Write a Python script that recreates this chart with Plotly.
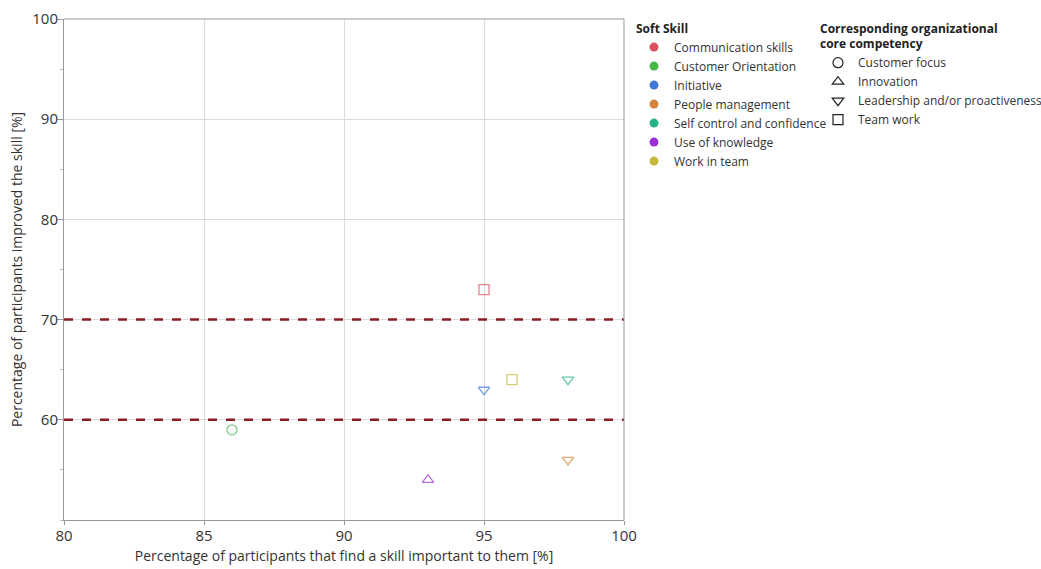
import plotly.graph_objects as go

skills = ["Communication skills", "Customer Orientation", "Initiative", "People management",
          "Self control and confidence", "Use of knowledge", "Work in team"]
importance = [95, 86, 95, 98, 98, 93, 96]
improved = [73, 59, 63, 56, 64, 54, 64]
competency = ["Team work", "Customer focus", "Leadership and/or proactiveness",
              "Leadership and/or proactiveness", "Leadership and/or proactiveness",
              "Innovation", "Team work"]
skill_colors = ["#d9505f", "#45b649", "#4478d8", "#d6843c", "#26b38a", "#9b2fd6", "#c4b93a"]
competencies = ["Customer focus", "Innovation", "Leadership and/or proactiveness", "Team work"]
comp_symbols = {"Customer focus": "circle-open", "Innovation": "triangle-up-open",
                "Leadership and/or proactiveness": "triangle-down-open", "Team work": "square-open"}
thresholds = [60, 70]

FONT = "Open Sans, Noto Sans, sans-serif"
fig = go.Figure()

for s, x, y, c, col in zip(skills, importance, improved, competency, skill_colors):
    fig.add_trace(go.Scatter(x=[x], y=[y], mode="markers", showlegend=False,
                             marker=dict(symbol=comp_symbols[c], size=10, color=col, opacity=0.7,
                                         line=dict(width=1.3, color=col)),
                             name=s))

for t in thresholds:
    fig.add_hline(y=t, line=dict(color="#8b1c24", width=2.5, dash="dash"))

# legend 1: skills
for s, col in zip(skills, skill_colors):
    fig.add_trace(go.Scatter(x=[None], y=[None], mode="markers", name=s, legend="legend",
                             marker=dict(symbol="circle", size=9, color=col)))
# legend 2: competencies
for c in competencies:
    fig.add_trace(go.Scatter(x=[None], y=[None], mode="markers", name=c, legend="legend2",
                             marker=dict(symbol=comp_symbols[c], size=10, color="#222",
                                         line=dict(width=1.2, color="#222"))))

fig.update_layout(
    width=1041, height=569,
    paper_bgcolor="white", plot_bgcolor="white",
    margin=dict(l=64, r=417, t=19, b=49, autoexpand=False),
    font=dict(family=FONT, color="#333", size=12),
    legend=dict(xref="container", yref="container", x=634/1041, y=1-17/569,
                xanchor="left", yanchor="top",
                title=dict(text="<b>Soft Skill</b>", font=dict(size=12, color="#222")),
                font=dict(size=12, color="#333"), itemwidth=30, tracegroupgap=0,
                bgcolor="rgba(0,0,0,0)"),
    legend2=dict(xref="container", yref="container", x=818/1041, y=1-17/569,
                 xanchor="left", yanchor="top",
                 title=dict(text="<b>Corresponding organizational<br>core competency</b>",
                            font=dict(size=12, color="#222")),
                 font=dict(size=12, color="#333"), itemwidth=30,
                 bgcolor="rgba(0,0,0,0)"),
    xaxis=dict(range=[80, 100], dtick=5, showgrid=True, gridcolor="#dcdcdc", automargin=False,
               showline=True, linecolor="#999", mirror=False, ticks="outside", ticklen=4,
               tickcolor="#999", zeroline=False, ticklabelstandoff=-2,
               tickfont=dict(size=15, color="#333"),
               title=dict(text="Percentage of participants that find a skill important to them [%]",
                          font=dict(size=14, color="#333"), standoff=7)),
    yaxis=dict(range=[50, 100], tickvals=[60, 70, 80, 90, 100], showgrid=True, gridcolor="#dcdcdc",
               automargin=False,
               showline=True, linecolor="#999", ticks="outside", ticklen=6, tickcolor="#999",
               zeroline=False, tickfont=dict(size=15, color="#333"), ticklabelstandoff=-4,
               minor=dict(dtick=5, ticks="outside", ticklen=3, tickcolor="#bbb", showgrid=False),
               title=dict(text="Percentage of participants improved the skill [%]",
                          font=dict(size=14, color="#333"), standoff=6)),
)
fig.add_shape(type="line", xref="paper", yref="paper", x0=0, x1=1, y0=1, y1=1,
              line=dict(color="#999", width=1))
fig.add_shape(type="line", xref="paper", yref="paper", x0=1, x1=1, y0=0, y1=1,
              line=dict(color="#999", width=1))

fig.write_html("out.html", config={"displayModeBar": False},
               post_script="document.body.style.margin='0';document.body.style.overflow='hidden';")
